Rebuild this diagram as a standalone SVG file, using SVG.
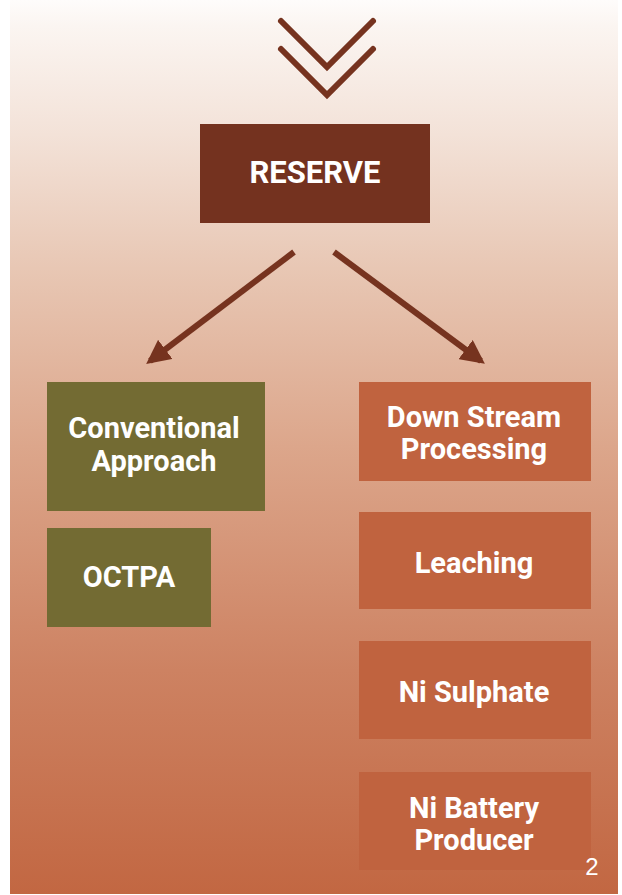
<svg xmlns="http://www.w3.org/2000/svg" width="622" height="895" viewBox="0 0 622 895">
<defs>
<linearGradient id="bg" x1="0" y1="0" x2="0" y2="1">
<stop offset="0" stop-color="#fefcfb"/>
<stop offset="0.03" stop-color="#fbf5f1"/>
<stop offset="0.15" stop-color="#f3e2d8"/>
<stop offset="0.3" stop-color="#e8c7b4"/>
<stop offset="0.5" stop-color="#dca68b"/>
<stop offset="0.75" stop-color="#cd8262"/>
<stop offset="1" stop-color="#c26742"/>
</linearGradient>
<marker id="ah" viewBox="0 0 10 10" refX="8" refY="5" markerWidth="4" markerHeight="4" orient="auto" markerUnits="strokeWidth">
<path d="M0,0 L10,5 L0,10 Z" fill="#76331f"/>
</marker>
<style>
.dark{fill:#74321f}
.olive{fill:#736b33}
.orange{fill:#c0633f}
.t{font-family:Roboto,"Liberation Sans",sans-serif;font-weight:bold;fill:#ffffff;text-anchor:middle}
.conn{stroke:#76331f;stroke-width:6;fill:none}
</style>
</defs>
<rect x="0" y="0" width="622" height="895" fill="#ffffff"/>
<rect x="10" y="0" width="608" height="894" fill="url(#bg)"/>
<g id="chevrons" fill="none" stroke="#76331f" stroke-width="6" stroke-linecap="round">
<polyline points="281,21 327,67 373,21"/>
<polyline points="281,49 327,95 373,49"/>
</g>
<g id="connectors">
<line class="conn" x1="294" y1="252" x2="150" y2="361" marker-end="url(#ah)"/>
<line class="conn" x1="334" y1="252" x2="481" y2="361" marker-end="url(#ah)"/>
</g>
<g id="reserve">
<rect class="dark" x="200" y="124" width="230" height="99"/>
<text class="t" x="315" y="183" font-size="31">RESERVE</text>
</g>
<g id="conventional">
<rect class="olive" x="47" y="382" width="218" height="129"/>
<text class="t" x="154" y="438" font-size="29">Conventional</text>
<text class="t" x="154" y="471" font-size="29">Approach</text>
</g>
<g id="octpa">
<rect class="olive" x="47" y="528" width="164" height="99"/>
<text class="t" x="129" y="587" font-size="29">OCTPA</text>
</g>
<g id="downstream">
<rect class="orange" x="359" y="382" width="232" height="99"/>
<text class="t" x="474" y="427" font-size="29">Down Stream</text>
<text class="t" x="474" y="459" font-size="29">Processing</text>
</g>
<g id="leaching">
<rect class="orange" x="359" y="512" width="232" height="97"/>
<text class="t" x="474" y="573" font-size="29">Leaching</text>
</g>
<g id="nisulphate">
<rect class="orange" x="359" y="641" width="232" height="98"/>
<text class="t" x="474" y="702" font-size="29">Ni Sulphate</text>
</g>
<g id="nibattery">
<rect class="orange" x="359" y="772" width="232" height="98"/>
<text class="t" x="474" y="818" font-size="29">Ni Battery</text>
<text class="t" x="474" y="850" font-size="29">Producer</text>
</g>
<text x="592" y="875" font-family="Liberation Sans, sans-serif" font-size="24" fill="#ffffff" text-anchor="middle">2</text>
</svg>
